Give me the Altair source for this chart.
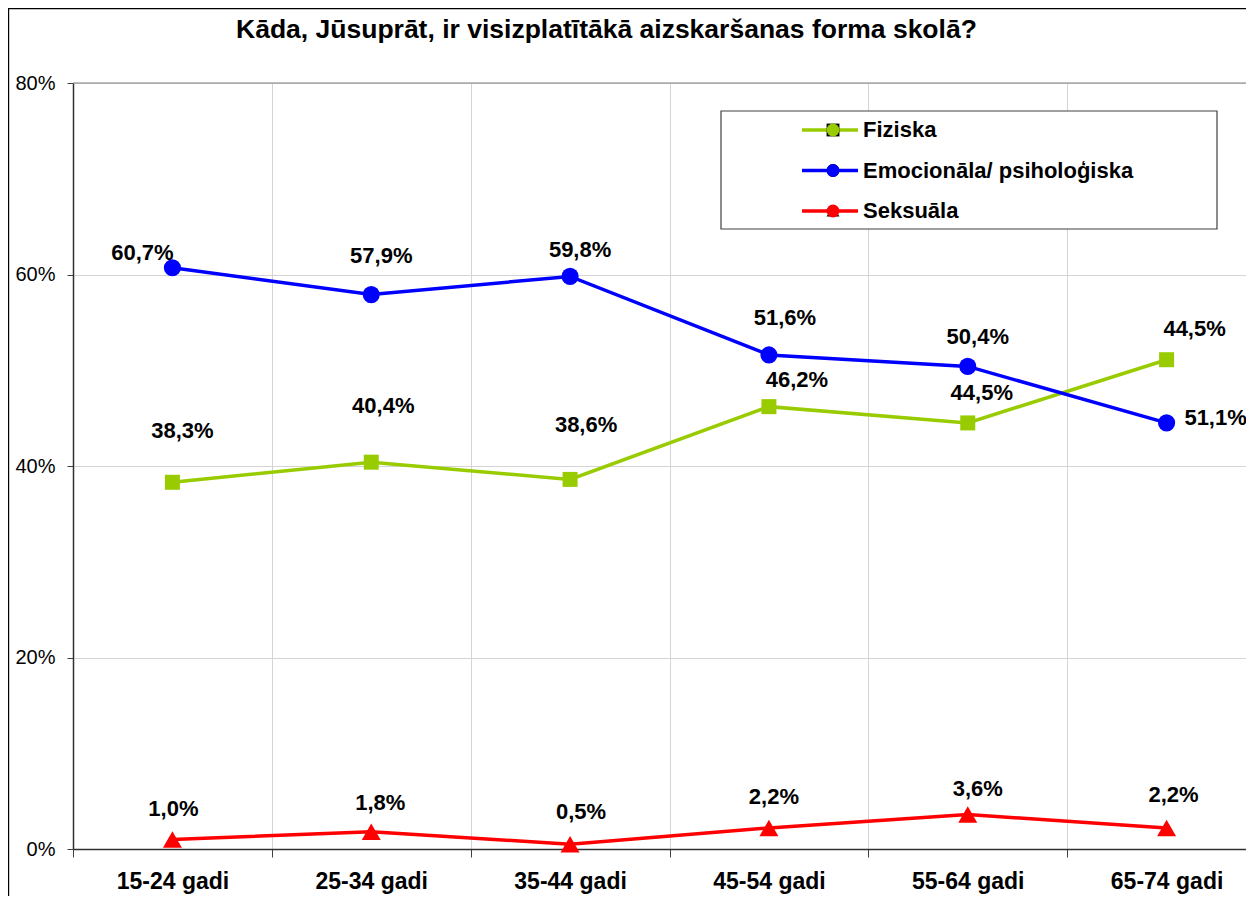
import altair as alt
import pandas as pd

categories = ["15-24 gadi", "25-34 gadi", "35-44 gadi", "45-54 gadi", "55-64 gadi", "65-74 gadi"]
series_names = ["Fiziska", "Emocionāla/ psiholoģiska", "Seksuāla"]
series_colors = ["#99cc00", "#0000ff", "#ff0000"]
series_shapes = ["square", "circle", "triangle-up"]

fiziska = [38.3, 40.4, 38.6, 46.2, 44.5, 51.1]
emocionala = [60.7, 57.9, 59.8, 51.6, 50.4, 44.5]
seksuala = [1.0, 1.8, 0.5, 2.2, 3.6, 2.2]

# data-label texts as printed on the original chart
fiziska_labels = ["38,3%", "40,4%", "38,6%", "46,2%", "44,5%", "44,5%"]
emocionala_labels = ["60,7%", "57,9%", "59,8%", "51,6%", "50,4%", "51,1%"]
seksuala_labels = ["1,0%", "1,8%", "0,5%", "2,2%", "3,6%", "2,2%"]

# label nudges (pixels) relative to each point
fiziska_dx = [10, 12, 16, 28, 14, 28]
fiziska_dy = [-51, -56, -54, -27, -30, -31]
emocionala_dx = [-30, 10, 10, 16, 10, 49]
emocionala_dy = [-15, -39, -26, -37, -29, -5]
seksuala_dx = [1, 9, 11, 5, 10, 7]
seksuala_dy = [-30, -29, -32, -31, -26, -33]

title_text = "Kāda, Jūsuprāt, ir visizplatītākā aizskaršanas forma skolā?"

rows = []
for name, vals, labs, dxs, dys in [
    (series_names[0], fiziska, fiziska_labels, fiziska_dx, fiziska_dy),
    (series_names[1], emocionala, emocionala_labels, emocionala_dx, emocionala_dy),
    (series_names[2], seksuala, seksuala_labels, seksuala_dx, seksuala_dy),
]:
    for c, v, l, dx, dy in zip(categories, vals, labs, dxs, dys):
        rows.append({"cat": c, "series": name, "mk": name, "value": v,
                     "label": l, "dx": dx, "dy": dy})
df = pd.DataFrame(rows)

FONT = "Liberation Sans"
W, H = 1173, 766
XR = 1193  # band range (extends past the visible plot, as in the cropped original)

x_scale = alt.Scale(type="band", paddingInner=0, paddingOuter=0, range=[0, XR])
y_scale = alt.Scale(domain=[0, 80], nice=False)

x_axis = alt.Axis(title=None, labelAngle=0, tickBand="extent", grid=True,
                  gridColor="#d4d4d4", gridWidth=1, tickSize=8, tickColor="#404040",
                  domainColor="#303030", domainWidth=1.5,
                  labelFont=FONT, labelFontSize=23, labelFontWeight="bold",
                  labelColor="black", labelPadding=13)
y_axis = alt.Axis(title=None, values=[0, 20, 40, 60, 80],
                  labelExpr="datum.value + '%'", grid=True,
                  gridColor="#d4d4d4", gridWidth=1, tickSize=6,
                  tickColor="#404040", domainColor="#303030", domainWidth=1.5,
                  labelFont=FONT, labelFontSize=20, labelColor="black",
                  labelPadding=12)

x_enc = alt.X("cat:N", sort=categories, scale=x_scale, axis=x_axis)
y_enc = alt.Y("value:Q", scale=y_scale, axis=y_axis)

base = alt.Chart(df)

one = pd.DataFrame({"k": [0]})
legend_frame = alt.Chart(one).mark_rect(fill="white", stroke="#404040", strokeWidth=1.2).encode(
    x=alt.value(648), x2=alt.value(1144), y=alt.value(28), y2=alt.value(146))

plot_top = alt.Chart(one).mark_rule(color="#808080", strokeWidth=1.2).encode(
    y=alt.value(0), x=alt.value(0), x2=alt.value(XR))

lines = base.mark_line(strokeWidth=3.5).encode(
    x=x_enc, y=y_enc,
    color=alt.Color("series:N",
                    scale=alt.Scale(domain=series_names, range=series_colors),
                    legend=alt.Legend(title=None, orient="none", legendX=727, legendY=37,
                                      symbolType="stroke", symbolSize=3136,
                                      symbolStrokeWidth=3.5, clipHeight=20, rowPadding=18.5,
                                      labelFont=FONT, labelFontSize=22, labelFontWeight="bold",
                                      labelColor="black", labelOffset=3, labelLimit=500,
                                      padding=0, zindex=1)),
    detail="series:N")

marker_legend = alt.Legend(title=None, orient="none", legendX=749, legendY=37,
                           symbolSize=165, symbolStrokeWidth=0,
                           symbolStrokeColor="transparent", clipHeight=20,
                           rowPadding=18.5, labelFontSize=22, labelExpr="''",
                           labelOffset=4, padding=0, zindex=2)
points = base.mark_point(filled=True, opacity=1, strokeWidth=0).encode(
    x=x_enc, y=y_enc,
    shape=alt.Shape("mk:N", sort=series_names,
                    scale=alt.Scale(range=series_shapes), legend=marker_legend),
    fill=alt.Fill("mk:N", sort=series_names,
                  scale=alt.Scale(range=series_colors), legend=marker_legend),
    size=alt.Size("mk:N", sort=series_names,
                  scale=alt.Scale(range=[225, 361, 300]), legend=None))

labels = base.transform_calculate(
    lx=f"datum.dx + {XR} / 12",
    ly=f"datum.value - datum.dy * 80 / {H}",
).mark_text(font=FONT, fontSize=22, fontWeight="bold", color="black",
            align="center", baseline="middle").encode(
    x=x_enc,
    y=alt.Y("ly:Q", scale=y_scale, axis=y_axis),
    xOffset=alt.XOffset("lx:Q", scale=None),
    text="label:N")

border_left = alt.Chart(one).mark_rule(color="black", strokeWidth=1.2).encode(
    x=alt.value(-64.4), y=alt.value(-75), y2=alt.value(H + 60))
border_top = alt.Chart(one).mark_rule(color="black", strokeWidth=1.2).encode(
    y=alt.value(-74.4), x=alt.value(-65), x2=alt.value(W + 20))

chart = alt.layer(legend_frame, plot_top, lines, points, labels,
                  border_left, border_top).properties(
    width=W, height=H,
    title=alt.Title(title_text, font=FONT, fontSize=26.5, fontWeight="bold", color="black",
                    anchor="start", frame="group", dx=163, offset=-36),
    autosize=alt.AutoSizeParams(type="none"),
    padding={"left": 65, "top": 75, "right": 0, "bottom": 47},
    background="white",
).configure_view(stroke=None)

chart.save("out.html", embed_options={"renderer": "svg", "actions": False})
